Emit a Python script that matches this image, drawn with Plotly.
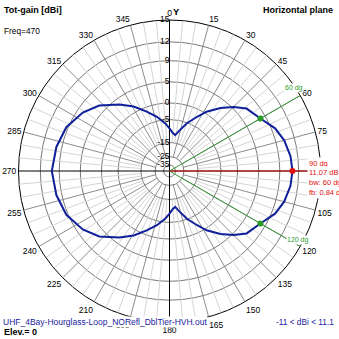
import numpy as np
import plotly.graph_objects as go

# ---- data (azimuth in degrees, total gain in dBi) ----
azimuth = [0, 5, 9, 13, 20, 27, 32, 39, 45, 51, 60, 68, 75, 83, 90,
           97, 105, 112, 120, 129, 135, 141, 148, 153, 160, 167, 171, 175, 180,
           185, 193, 201, 209, 217, 227, 236, 247, 258, 270, 282, 293, 304, 313,
           323, 331, 339, 347, 355, 360]
gain_dbi = [-8.3, -10.2, -11.0, -9.1, -5.2, -2.0, 0.5, 3.2, 5.3, 7.0, 8.07, 9.6, 10.4, 10.9, 11.07,
            10.9, 10.4, 9.6, 8.07, 7.0, 5.3, 3.2, 0.5, -2.0, -5.2, -9.1, -11.0, -10.2, -8.3,
            -6.3, -3.6, -1.2, 1.5, 3.7, 6.4, 8.0, 9.3, 9.9, 10.23, 9.9, 9.3, 8.0, 6.4,
            3.7, 1.5, -1.2, -3.6, -6.3, -8.3]

max_dir = [90]
max_gain = [11.07]
bw_dirs = [60, 120]
bw_gain = [8.07, 8.07]
bw_labels = ["60 dg", "120 dg"]
info_lines = ["90 dg", "11.07 dB", "bw: 60 dg", "fb: 0.84 dB"]

radial_ticks = [15, 12, 9, 5, 0, -5, -15, -25, -35]
angle_ticks = list(range(0, 360, 15))
angle_labels = [str(a) for a in angle_ticks]
minor_angles = [a for a in range(0, 360, 5) if a % 15 != 0]
major_angles = [a for a in angle_ticks if a % 90 != 0]

# ---- log-like radial scale (4NEC2 style) ----
K = 0.0495
OFF = 0.0981


def rho(db):
    return np.exp(K * np.asarray(db, dtype=float)) - OFF


R_TOP = float(rho(radial_ticks[0]))
R_MINOR_IN = float(rho(-15))
R_MAJOR_IN = float(rho(-25))

FONT = "Liberation Sans, Arial, sans-serif"
W, H = 339, 339
CX, CY, RAD = 169.5, 171.0, 151.0


def spokes(angles, r0, r1):
    rr, tt = [], []
    for a in angles:
        rr += [r0, r1, None]
        tt += [a, a, None]
    return rr, tt


fig = go.Figure()

# minor radial grid lines (every 5 deg)
r, t = spokes(minor_angles, R_MINOR_IN, R_TOP)
fig.add_trace(go.Scatterpolar(r=r, theta=t, mode="lines",
                              line=dict(color="#d4d4d4", width=1), hoverinfo="skip"))
# major radial grid lines (every 15 deg)
r, t = spokes(major_angles, R_MAJOR_IN, R_TOP)
fig.add_trace(go.Scatterpolar(r=r, theta=t, mode="lines",
                              line=dict(color="#8c8c8c", width=1), hoverinfo="skip"))
# black main axes
fig.add_trace(go.Scatterpolar(r=[R_TOP, 0, R_TOP, None, R_TOP, 0, R_TOP],
                              theta=[0, 0, 180, None, 90, 90, 270], mode="lines",
                              line=dict(color="black", width=1), hoverinfo="skip"))
# beamwidth (green) and max direction (red) lines
r, t = spokes(bw_dirs, 0, R_TOP)
fig.add_trace(go.Scatterpolar(r=r, theta=t, mode="lines",
                              line=dict(color="#3a9a3a", width=1), hoverinfo="skip"))
fig.add_trace(go.Scatterpolar(r=[0, R_TOP], theta=[max_dir[0], max_dir[0]], mode="lines",
                              line=dict(color="#e01010", width=1), hoverinfo="skip"))
# pattern
fig.add_trace(go.Scatterpolar(r=rho(gain_dbi), theta=azimuth, mode="lines",
                              line=dict(color="#10209a", width=2)))
# markers
fig.add_trace(go.Scatterpolar(r=rho(bw_gain), theta=bw_dirs, mode="markers",
                              marker=dict(color="#2a9a2a", size=6)))
fig.add_trace(go.Scatterpolar(r=rho(max_gain), theta=max_dir, mode="markers",
                              marker=dict(color="#e01010", size=6)))
# radial tick labels
fig.add_trace(go.Scatterpolar(r=rho(radial_ticks), theta=[0] * len(radial_ticks),
                              mode="text", text=[str(v) for v in radial_ticks],
                              textposition="middle left",
                              textfont=dict(family=FONT, size=8.5, color="black"),
                              hoverinfo="skip"))

fig.update_layout(
    width=W, height=H,
    margin=dict(l=0, r=0, t=0, b=0),
    paper_bgcolor="white",
    showlegend=False,
    polar=dict(
        domain=dict(x=[(CX - RAD) / W, (CX + RAD) / W],
                    y=[(H - CY - RAD) / H, (H - CY + RAD) / H]),
        bgcolor="white",
        angularaxis=dict(rotation=90, direction="clockwise",
                         tickmode="array", tickvals=angle_ticks, ticktext=angle_labels,
                         showgrid=False, showline=True, linecolor="black", linewidth=1,
                         ticks="", tickfont=dict(family=FONT, size=8.5, color="black"),
                         layer="below traces"),
        radialaxis=dict(range=[0, R_TOP], tickmode="array",
                        tickvals=list(rho(radial_ticks)),
                        showticklabels=False, ticks="", showline=False,
                        gridcolor="#7a7a7a", gridwidth=1, layer="below traces"),
    ),
)


def ann(text, x, y, xa="left", ya="middle", size=10, color="black", bg=None, bold=False, pad=0):
    if bold:
        text = "<b>" + text + "</b>"
    fig.add_annotation(text=text, xref="paper", yref="paper",
                       x=x / W, y=1 - y / H, xanchor=xa, yanchor=ya,
                       showarrow=False, align="left",
                       font=dict(family=FONT, size=size, color=color),
                       bgcolor=bg, borderpad=pad)


ann("Tot-gain [dBi]", 3, 10, size=9, bold=True)
ann("Freq=470", 3, 31, size=8.3)
ann("Y", 176.5, 11, xa="center", size=9.5, bold=True)
ann("Horizontal plane", 334, 10, xa="right", size=9, bold=True)
ann("UHF_4Bay-Hourglass-Loop_NORefl_DblTier-HVH.out", 2, 321.5, size=8.5,
    color="#1a1aa0", bg="white")
ann("Elev.= 0", 3, 331.5, size=9, bold=True)
ann("-11 &lt; dBi &lt; 11.1", 335, 321.5, xa="right", size=8.3, color="#1a1aa0")
for i, line in enumerate(info_lines):
    ann(line, 307, 163 + 9.7 * i, size=7.5, color="#e01010", bg="white", pad=1)
ann(bw_labels[0], 294, 88, xa="center", size=7, color="#2a9a2a", bg="white")
ann(bw_labels[1], 298, 239.5, xa="center", size=7, color="#2a9a2a", bg="white")

fig.write_html("out.html")
